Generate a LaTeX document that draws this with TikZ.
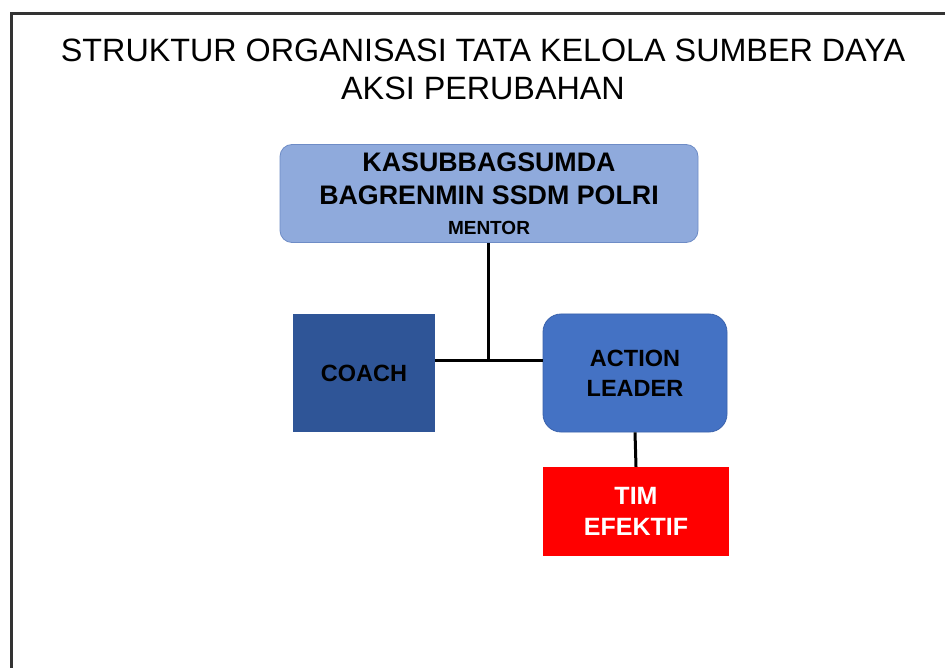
\documentclass[tikz,border=0pt]{standalone}
\usepackage{fontspec}
\setmainfont{Liberation Sans}
\definecolor{lightbox}{HTML}{8FAADC}
\definecolor{lightedge}{HTML}{6E8CC6}
\definecolor{coachblue}{HTML}{2F5597}
\definecolor{actionblue}{HTML}{4472C4}
\definecolor{actionedge}{HTML}{3A62AC}
\definecolor{framegray}{HTML}{333333}
\tikzset{
  box/.style={inner sep=0pt, anchor=center, align=center, font=\bfseries},
  link/.style={line width=3pt, black},
}
\begin{document}
\begin{tikzpicture}[x=1pt,y=-1pt]
\useasboundingbox (0,0) rectangle (945,668);
\clip (0,0) rectangle (945,668);
\fill[white] (0,0) rectangle (945,668);
\draw[line width=3pt, framegray] (11,700) -- (11,14) -- (960,14);

\node[align=center, inner sep=0pt, font=\fontsize{32.3}{38}\selectfont] (title) at (483,69)
  {STRUKTUR ORGANISASI TATA KELOLA SUMBER DAYA\\AKSI PERUBAHAN};

\node[box, fill=lightbox, draw=lightedge, line width=0.8pt, rounded corners=12pt,
  minimum width=418pt, minimum height=98pt,
  font=\bfseries\fontsize{26.8}{33}\selectfont] (mentor) at (489,193.5)
  {KASUBBAGSUMDA\\BAGRENMIN SSDM POLRI\\[-3pt]{\fontsize{19}{23}\selectfont MENTOR}};

\node[box, fill=coachblue, minimum width=142pt, minimum height=118pt,
  font=\bfseries\fontsize{23.5}{28}\selectfont] (coach) at (364,373) {COACH};

\node[box, fill=actionblue, draw=actionedge, line width=0.8pt, rounded corners=18pt,
  minimum width=184pt, minimum height=118pt,
  font=\bfseries\fontsize{23.5}{30}\selectfont] (action) at (635,373) {ACTION\\LEADER};

\node[box, fill=red, minimum width=186pt, minimum height=89pt, text=white,
  font=\bfseries\fontsize{25}{31}\selectfont] (tim) at (636,511.5) {TIM\\EFEKTIF};

\coordinate (junction) at (488,360);
\draw[link] (junction |- mentor.south) -- (junction);
\draw[link] (coach.east |- junction) -- (action.west |- junction);
\draw[link] (action.south) -- (tim.north);
\end{tikzpicture}
\end{document}
